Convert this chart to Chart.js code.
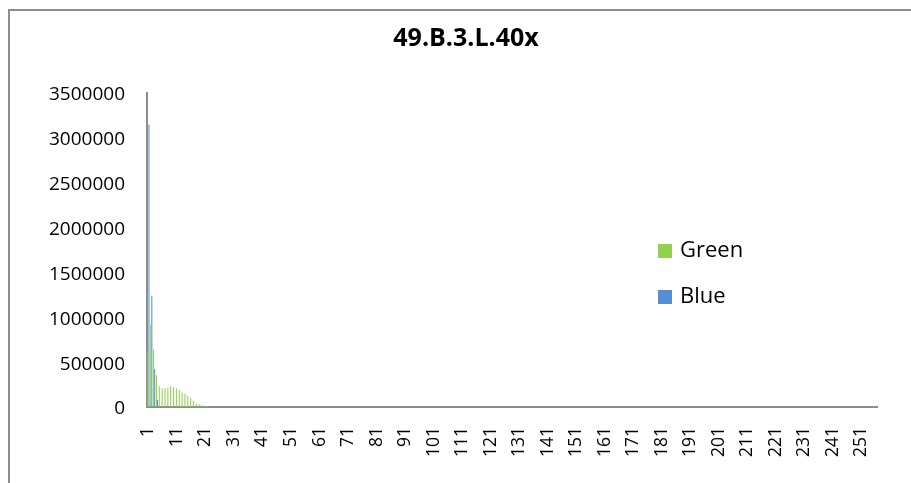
<!DOCTYPE html>
<html lang="en">
<head>
<meta charset="UTF-8">
<title>49.B.3.L.40x</title>
<script src="https://cdn.jsdelivr.net/npm/chart.js"></script>
<style>
  body { margin: 0; background: #fff; }
  #frame { position: absolute; left: 8px; top: 9px; width: 920px; height: 500px;
           border-left: 2px solid #8c8c8c; border-top: 2px solid #8c8c8c; }
  #wrap { position: absolute; left: 0; top: 0; width: 911px; height: 483px; }
</style>
</head>
<body>
<div id="frame"></div>
<div id="wrap"><canvas id="chart" width="911" height="483"></canvas></div>
<script>
// histogram bins 1..256
var categories = Array.from({ length: 256 }, function (_, i) { return String(i + 1); });

// values, bins 1..256
var greenValues = [
  620000, 920000, 640000, 350000, 230000, 210000, 210000, 215000, 230000, 220000,
  210000, 190000, 160000, 150000, 125000, 100000, 70000, 40000, 30000, 20000,
  10000, 5000, 3000, 0, 0, 0, 0, 0, 0, 0,
  0, 0, 0, 0, 0, 0, 0, 0, 0, 0, 0, 0, 0, 0, 0, 0, 0, 0, 0, 0,
  0, 0, 0, 0, 0, 0, 0, 0, 0, 0, 0, 0, 0, 0, 0, 0, 0, 0, 0, 0,
  0, 0, 0, 0, 0, 0, 0, 0, 0, 0, 0, 0, 0, 0, 0, 0, 0, 0, 0, 0,
  0, 0, 0, 0, 0, 0, 0, 0, 0, 0, 0, 0, 0, 0, 0, 0, 0, 0, 0, 0,
  0, 0, 0, 0, 0, 0, 0, 0, 0, 0, 0, 0, 0, 0, 0, 0, 0, 0, 0, 0,
  0, 0, 0, 0, 0, 0, 0, 0, 0, 0, 0, 0, 0, 0, 0, 0, 0, 0, 0, 0,
  0, 0, 0, 0, 0, 0, 0, 0, 0, 0, 0, 0, 0, 0, 0, 0, 0, 0, 0, 0,
  0, 0, 0, 0, 0, 0, 0, 0, 0, 0, 0, 0, 0, 0, 0, 0, 0, 0, 0, 0,
  0, 0, 0, 0, 0, 0, 0, 0, 0, 0, 0, 0, 0, 0, 0, 0, 0, 0, 0, 0,
  0, 0, 0, 0, 0, 0, 0, 0, 0, 0, 0, 0, 0, 0, 0, 0, 0, 0, 0, 0,
  0, 0, 0, 0, 0, 0
];
var blueValues = [
  3150000, 1240000, 420000, 80000, 10000, 0, 0, 0, 0, 0,
  0, 0, 0, 0, 0, 0, 0, 0, 0, 0, 0, 0, 0, 0, 0, 0, 0, 0, 0, 0,
  0, 0, 0, 0, 0, 0, 0, 0, 0, 0, 0, 0, 0, 0, 0, 0, 0, 0, 0, 0,
  0, 0, 0, 0, 0, 0, 0, 0, 0, 0, 0, 0, 0, 0, 0, 0, 0, 0, 0, 0,
  0, 0, 0, 0, 0, 0, 0, 0, 0, 0, 0, 0, 0, 0, 0, 0, 0, 0, 0, 0,
  0, 0, 0, 0, 0, 0, 0, 0, 0, 0, 0, 0, 0, 0, 0, 0, 0, 0, 0, 0,
  0, 0, 0, 0, 0, 0, 0, 0, 0, 0, 0, 0, 0, 0, 0, 0, 0, 0, 0, 0,
  0, 0, 0, 0, 0, 0, 0, 0, 0, 0, 0, 0, 0, 0, 0, 0, 0, 0, 0, 0,
  0, 0, 0, 0, 0, 0, 0, 0, 0, 0, 0, 0, 0, 0, 0, 0, 0, 0, 0, 0,
  0, 0, 0, 0, 0, 0, 0, 0, 0, 0, 0, 0, 0, 0, 0, 0, 0, 0, 0, 0,
  0, 0, 0, 0, 0, 0, 0, 0, 0, 0, 0, 0, 0, 0, 0, 0, 0, 0, 0, 0,
  0, 0, 0, 0, 0, 0, 0, 0, 0, 0, 0, 0, 0, 0, 0, 0, 0, 0, 0, 0,
  0, 0, 0, 0, 0, 0, 0, 0, 0, 0, 0, 0, 0, 0, 0, 0, 0, 0, 0, 0,
  0, 0, 0, 0, 0, 0
];
var yTicks = [0, 500000, 1000000, 1500000, 2000000, 2500000, 3000000, 3500000];
var chartTitle = '49.B.3.L.40x';

var FONT = "'Open Sans', sans-serif";

// title + legend drawn by hand, Excel puts them off-centre / inside the plot
var excelBits = {
  id: 'excelBits',
  afterDraw: function (chart) {
    var ctx = chart.ctx;
    ctx.save();
    ctx.fillStyle = '#000';
    ctx.textAlign = 'center';
    ctx.textBaseline = 'middle';
    ctx.font = 'bold 25px ' + FONT;
    ctx.fillText(chartTitle, 466, 39);

    ctx.textAlign = 'left';
    ctx.font = '22px ' + FONT;
    chart.data.datasets.forEach(function (ds, i) {
      var y = 251 + i * 46;
      ctx.fillStyle = ds.backgroundColor;
      ctx.fillRect(658, y - 7, 14, 14);
      ctx.fillStyle = '#000';
      ctx.fillText(ds.label, 680, y);
    });
    ctx.restore();
  }
};

var ctx = document.getElementById('chart').getContext('2d');
var chart = new Chart(ctx, {
  type: 'bar',
  data: {
    labels: categories,
    datasets: [
      { label: 'Green', data: greenValues, backgroundColor: '#92d050', borderWidth: 0 },
      { label: 'Blue', data: blueValues, backgroundColor: '#558ed5', borderWidth: 0 }
    ]
  },
  options: {
    responsive: false,
    animation: false,
    layout: { padding: { left: 0, right: 34, top: 93, bottom: 0 } },
    categoryPercentage: 0.75,
    barPercentage: 1,
    plugins: {
      legend: { display: false },
      tooltip: { enabled: false },
      title: { display: false }
    },
    scales: {
      x: {
        grid: { display: false },
        border: { display: true, color: '#8c8c8c', width: 2 },
        afterFit: function (scale) { scale.height = 76; },
        afterCalculateLabelRotation: function (scale) { scale.labelRotation = 90; },
        ticks: {
          autoSkip: false,
          minRotation: 90,
          maxRotation: 90,
          padding: 12,
          color: '#000',
          font: { family: FONT, size: 17.5 },
          callback: function (value, index) {
            return index % 10 === 0 ? categories[index] : '';
          }
        }
      },
      y: {
        min: 0,
        max: 3500000,
        grid: { display: false },
        border: { display: true, color: '#8c8c8c', width: 2 },
        afterFit: function (scale) { scale.width = 147; },
        afterBuildTicks: function (scale) {
          scale.ticks = yTicks.map(function (v) { return { value: v }; });
        },
        ticks: {
          padding: 14,
          labelOffset: 2,
          color: '#000',
          font: { family: FONT, size: 19 },
          callback: function (value) { return String(value); }
        }
      }
    }
  },
  plugins: [excelBits]
});
</script>
</body>
</html>
